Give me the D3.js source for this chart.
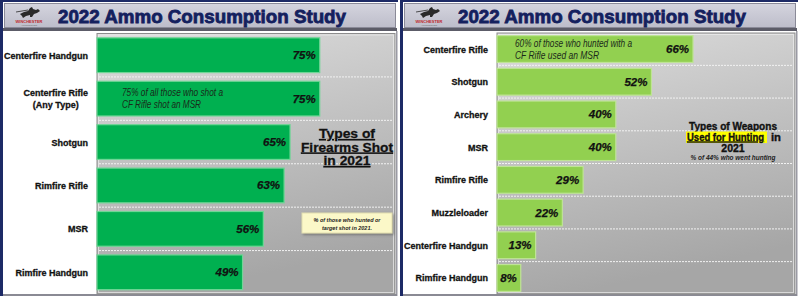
<!DOCTYPE html>
<html>
<head>
<meta charset="utf-8">
<script src="https://cdn.jsdelivr.net/npm/d3@7"></script>
<style>
  body { margin: 0; background: #fff; }
  svg { display: block; font-family: "Liberation Sans", Arial, sans-serif; }
</style>
</head>
<body>
<svg id="chart" width="800" height="296"></svg>
<script>
// data
const title = "2022 Ammo Consumption Study";

const firearmCats = ["Centerfire Handgun", "Centerfire Rifle\n(Any Type)", "Shotgun", "Rimfire Rifle", "MSR", "Rimfire Handgun"];
const firearmVals = [75, 75, 65, 63, 56, 49];

const huntCats = ["Centerfire Rifle", "Shotgun", "Archery", "MSR", "Rimfire Rifle", "Muzzleloader", "Centerfire Handgun", "Rimfire Handgun"];
const huntVals = [66, 52, 40, 40, 29, 22, 13, 8];

const firearmNote = ["75% of all those who shot a", "CF Rifle shot an MSR"];
const firearmTitle = ["Types of", "Firearms Shot", "in 2021"];
const firearmBox = ["% of those who hunted or", "target shot in 2021."];

const huntNote = ["60% of those who hunted with a", "CF Rifle used an MSR"];
const huntTitle = ["Types of Weapons", "Used for Hunting", "in", "2021"];
const huntSub = "% of 44% who went hunting";

var svg = d3.select("#chart");
var defs = svg.append("defs");

var grad = defs.append("linearGradient").attr("id", "plotbg")
    .attr("x1", 0).attr("y1", 0).attr("x2", 0.25).attr("y2", 1);
grad.append("stop").attr("offset", "0%").attr("stop-color", "#dcdcdc");
grad.append("stop").attr("offset", "100%").attr("stop-color", "#a6a6a6");

var hgrad = defs.append("linearGradient").attr("id", "headbg")
    .attr("x1", 0).attr("y1", 0).attr("x2", 0).attr("y2", 1);
hgrad.append("stop").attr("offset", "0%").attr("stop-color", "#d4d4de");
hgrad.append("stop").attr("offset", "100%").attr("stop-color", "#bdbdca");

var shadow = defs.append("filter").attr("id", "shadow")
    .attr("x", "-10%").attr("y", "-10%").attr("width", "130%").attr("height", "140%");
shadow.append("feDropShadow").attr("dx", 1.5).attr("dy", 1.5).attr("stdDeviation", 0.8)
    .attr("flood-color", "#555").attr("flood-opacity", 0.6);

// squeeze a text into a given width
function fit(sel, w) {
    sel.attr("textLength", w).attr("lengthAdjust", "spacingAndGlyphs");
}

function drawPanel(x0, cats, vals, opt) {
    var g = svg.append("g").attr("transform", "translate(" + x0 + ",0)");

    // frame + header
    g.append("rect").attr("x", 0).attr("y", 0).attr("width", 398).attr("height", 296).attr("fill", "#fff");
    g.append("rect").attr("x", 0).attr("y", 0).attr("width", 3).attr("height", 296).attr("fill", "#1d2a66");
    g.append("rect").attr("x", 0).attr("y", 0).attr("width", 398).attr("height", 2).attr("fill", "#1d2a66");
    g.append("rect").attr("x", 4.5).attr("y", 3.5).attr("width", 391).attr("height", 24)
        .attr("fill", "url(#headbg)").attr("stroke", "#8a8a98");
    g.append("rect").attr("x", 3).attr("y", 28).attr("width", 394).attr("height", 3).attr("fill", "#5c5c68");
    g.append("rect").attr("x", 396).attr("y", 31).attr("width", 1.5).attr("height", 265).attr("fill", "#9a9aa4");
    g.append("rect").attr("x", 3).attr("y", 294).attr("width", 394).attr("height", 2).attr("fill", "#8a8a94");

    // little logo
    var logo = g.append("g").attr("transform", "translate(14,5)");
    logo.append("path")
        .attr("d", "M6,9 L10,7 L14,6 L16,3 L18,2 L19,4 L22,5 L24,4 L26,6 L23,8 L20,9 L18,12 L16,12 L16,10 L12,11 L9,13 L8,11 Z")
        .attr("fill", "#2a2a2a");
    logo.append("path").attr("d", "M2,7 L14,5").attr("stroke", "#2a2a2a").attr("stroke-width", 0.8);
    logo.append("text").attr("x", 15).attr("y", 17.5).attr("text-anchor", "middle")
        .attr("font-size", 4).attr("font-weight", "bold").attr("fill", "#c0282d").text("WINCHESTER");
    logo.append("text").attr("x", 15).attr("y", 21).attr("text-anchor", "middle")
        .attr("font-size", 2.5).attr("fill", "#666").text("AMMUNITION");

    var t = g.append("text").attr("x", 58).attr("y", 22.5)
        .attr("font-size", 19).attr("font-weight", "bold").attr("fill", "#14205e")
        .attr("stroke", "#14205e").attr("stroke-width", 0.8).text(title);
    fit(t, 288);

    // plot area
    var px0 = 97, px1 = 395, py0 = opt.top, py1 = 294;
    g.append("rect").attr("x", px0).attr("y", py0).attr("width", px1 - px0).attr("height", py1 - py0)
        .attr("fill", "url(#plotbg)").attr("stroke", "#8c8c8c");
    g.append("rect").attr("x", px0 + 1.5).attr("y", py0 + 1.5).attr("width", px1 - px0 - 3).attr("height", py1 - py0 - 3)
        .attr("fill", "none").attr("stroke", "#eeeeee").attr("stroke-opacity", 0.7);

    var x = d3.scaleLinear().domain([0, 100]).range([px0, px0 + 297]);
    var y = d3.scaleBand().domain(cats).range([py0, py1])
        .paddingInner(opt.padIn).paddingOuter(opt.padOut);

    // dotted separators between bands
    var seps = cats.slice(1).map(function(c) { return y(c) - y.step() * y.paddingInner() / 2; });
    g.selectAll(".sep").data(seps).enter().append("line")
        .attr("x1", px0 + 2).attr("x2", px1 - 2)
        .attr("y1", function(d) { return d; }).attr("y2", function(d) { return d; })
        .attr("stroke", "#f2f2f2").attr("stroke-width", 1).attr("stroke-dasharray", "2,1");

    var data = cats.map(function(c, i) { return { cat: c, val: vals[i] }; });

    g.selectAll(".bar").data(data).enter().append("rect")
        .attr("x", x(0)).attr("y", function(d) { return y(d.cat); })
        .attr("width", function(d) { return x(d.val) - x(0); })
        .attr("height", y.bandwidth())
        .attr("fill", opt.color).attr("stroke", opt.edge).attr("stroke-width", 1.2);

    g.selectAll(".val").data(data).enter().append("text")
        .attr("x", function(d) { return x(d.val) - 4; })
        .attr("y", function(d) { return y(d.cat) + y.bandwidth() / 2 + 4; })
        .attr("text-anchor", "end").attr("font-size", 11.5).attr("font-weight", "bold")
        .attr("font-style", "italic").attr("fill", "#111")
        .attr("stroke", "#111").attr("stroke-width", 0.25)
        .text(function(d) { return d.val + "%"; });

    // category labels, multi-line ones centred on their widest line
    g.selectAll(".cat").data(data).enter().append("text")
        .attr("font-size", 9).attr("font-weight", "bold").attr("fill", "#111")
        .attr("stroke", "#111").attr("stroke-width", 0.3)
        .each(function(d) {
            var lines = d.cat.split("\n");
            var el = d3.select(this);
            var cy = y(d.cat) + y.bandwidth() / 2;
            var first = cy + 3.5 - (lines.length - 1) * 6;
            lines.forEach(function(l, i) {
                el.append("tspan").attr("y", first + i * 12).text(l);
            });
            var w = d3.max(el.selectAll("tspan").nodes(), function(n) { return n.getComputedTextLength(); });
            el.attr("text-anchor", lines.length > 1 ? "middle" : "end");
            el.selectAll("tspan").attr("x", lines.length > 1 ? 88 - w / 2 : 88);
        });

    return { g: g, x: x, y: y };
}

// ---- left slide
var L = drawPanel(0, firearmCats, firearmVals,
    { color: "#00b050", edge: "#6fd696", top: 33.5, padIn: 0.2, padOut: 0.1 });

var lb = L.y(firearmCats[1]) + L.y.bandwidth() / 2;
firearmNote.forEach(function(s, i) {
    var t = L.g.append("text").attr("x", 122).attr("y", lb - 2.5 + i * 12)
        .attr("font-size", 10).attr("font-style", "italic").attr("fill", "#1a2a1a").text(s);
    fit(t, i == 0 ? 101 : 79);
});

firearmTitle.forEach(function(s, i) {
    var t = L.g.append("text").attr("x", 347).attr("y", 138 + i * 13.5)
        .attr("text-anchor", "middle").attr("font-size", 13.5).attr("font-weight", "bold")
        .attr("fill", "#111").attr("stroke", "#111").attr("stroke-width", 0.3)
        .attr("text-decoration", "underline").text(s);
    fit(t, [56, 92, 47][i]);
});

L.g.append("rect").attr("x", 302).attr("y", 213).attr("width", 90).attr("height", 20)
    .attr("fill", "#fbf8c8").attr("stroke", "#e2deb0").attr("filter", "url(#shadow)");
firearmBox.forEach(function(s, i) {
    var t = L.g.append("text").attr("x", 347).attr("y", 221.5 + i * 8.5)
        .attr("text-anchor", "middle").attr("font-size", 6).attr("font-style", "italic")
        .attr("font-weight", "bold").attr("fill", "#222").text(s);
    fit(t, [67, 50][i]);
});

// ---- right slide
var R = drawPanel(400, huntCats, huntVals,
    { color: "#92d050", edge: "#bfe496", top: 33, padIn: 0.18, padOut: 0.08 });

var rb = R.y(huntCats[0]) + R.y.bandwidth() / 2;
huntNote.forEach(function(s, i) {
    var t = R.g.append("text").attr("x", 115).attr("y", rb - 2 + i * 11.5)
        .attr("font-size", 10).attr("font-style", "italic").attr("fill", "#1a2a1a").text(s);
    fit(t, i == 0 ? 117 : 84);
});

function heading(sel) {
    return sel.attr("font-size", 10.5).attr("font-weight", "bold").attr("fill", "#111")
        .attr("stroke", "#111").attr("stroke-width", 0.35);
}

var tt = heading(R.g.append("text")).attr("x", 333).attr("y", 130).attr("text-anchor", "middle")
    .text(huntTitle[0]);
fit(tt, 88);

// highlighted middle line: "Used for Hunting" + " in"
var hl = R.g.append("g");
var hx = 287;
hl.append("rect").attr("x", hx - 1).attr("y", 131.5).attr("width", 81).attr("height", 11.5)
    .attr("fill", "#ffff00");
var hu = heading(R.g.append("text")).attr("x", hx).attr("y", 140.5)
    .attr("text-decoration", "underline").text(huntTitle[1]);
fit(hu, 77);
var hin = heading(R.g.append("text")).attr("x", hx + 84).attr("y", 140.5).text(huntTitle[2]);
fit(hin, 10);

heading(R.g.append("text")).attr("x", 333).attr("y", 151.5).attr("text-anchor", "middle")
    .text(huntTitle[3]);
var ts = R.g.append("text").attr("x", 333).attr("y", 160).attr("text-anchor", "middle")
    .attr("font-size", 6.5).attr("font-style", "italic").attr("font-weight", "bold")
    .attr("fill", "#222").text(huntSub);
fit(ts, 85);
</script>
</body>
</html>
